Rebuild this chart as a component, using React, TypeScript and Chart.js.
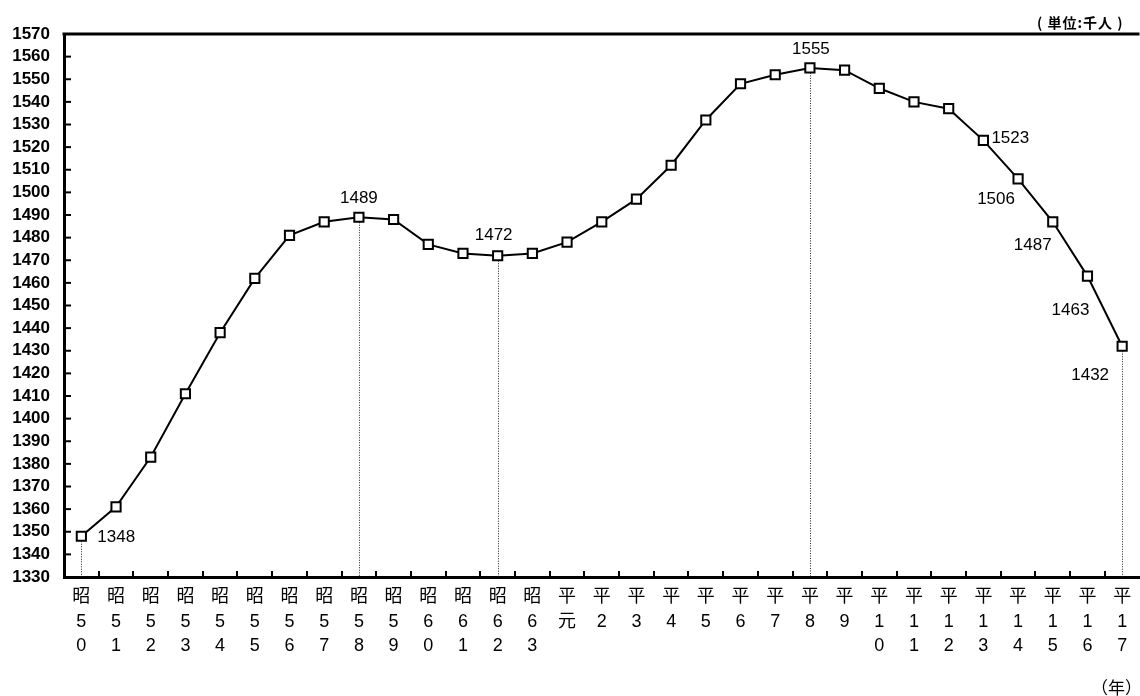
import React, { useEffect, useRef } from "react";
import { Chart, registerables } from "chart.js";

Chart.register(...registerables);

const categories = [
  "昭50", "昭51", "昭52", "昭53", "昭54", "昭55", "昭56", "昭57", "昭58", "昭59",
  "昭60", "昭61", "昭62", "昭63", "平元", "平2", "平3", "平4", "平5", "平6",
  "平7", "平8", "平9", "平10", "平11", "平12", "平13", "平14", "平15", "平16", "平17",
];

const values = [
  1348, 1361, 1383, 1411, 1438, 1462, 1481, 1487, 1489, 1488,
  1477, 1473, 1472, 1473, 1478, 1487, 1497, 1512, 1532, 1548,
  1552, 1555, 1554, 1546, 1540, 1537, 1523, 1506, 1487, 1463, 1432,
];

const labeledIndices = [0, 8, 12, 21, 26, 27, 28, 29, 30];
const dropLineIndices = [0, 8, 12, 21, 30];

const yMin = 1330;
const yMax = 1570;
const yStep = 10;

const unitText = "( 単位:千人 )";
const xAxisTitle = "（年）";

// label placement relative to the point (style/position only)
const labelPlacement: Record<number, { dx: number; dy: number; align: CanvasTextAlign }> = {
  0: { dx: 16, dy: 1, align: "left" },
  8: { dx: 0, dy: -19, align: "center" },
  12: { dx: -4, dy: -20, align: "center" },
  21: { dx: 1, dy: -19, align: "center" },
  26: { dx: 8, dy: -2, align: "left" },
  27: { dx: -22, dy: 21, align: "center" },
  28: { dx: -20, dy: 24, align: "center" },
  29: { dx: -17, dy: 34, align: "center" },
  30: { dx: -32, dy: 29, align: "center" },
};

const FONT_LATIN = "'Liberation Sans', Arial, 'Noto Sans CJK JP', sans-serif";

const decorPlugin = {
  id: "decor",
  beforeDatasetsDraw(chart: any) {
    const { ctx, chartArea: a, scales } = chart;
    const x = scales.x;
    const y = scales.y;
    ctx.save();
    ctx.strokeStyle = "#222";
    ctx.lineWidth = 1;
    ctx.setLineDash([1, 1.5]);
    for (const i of dropLineIndices) {
      const px = Math.round(x.getPixelForValue(i)) + 0.5;
      const py = y.getPixelForValue(values[i]);
      ctx.beginPath();
      ctx.moveTo(px, py + 5);
      ctx.lineTo(px, a.bottom);
      ctx.stroke();
    }
    ctx.restore();
  },
  afterDraw(chart: any) {
    const { ctx, chartArea: a, scales } = chart;
    const x = scales.x;
    const y = scales.y;
    ctx.save();
    // top frame line
    ctx.strokeStyle = "#000";
    ctx.lineWidth = 3;
    ctx.beginPath();
    ctx.moveTo(a.left - 1.5, a.top);
    ctx.lineTo(a.right, a.top);
    ctx.stroke();
    // inward y tick marks
    ctx.lineWidth = 2;
    for (const t of y.ticks) {
      const py = y.getPixelForValue(t.value);
      ctx.beginPath();
      ctx.moveTo(a.left, py);
      ctx.lineTo(a.left + 7, py);
      ctx.stroke();
    }
    // inward x tick marks at category boundaries
    for (let i = 0; i < categories.length - 1; i++) {
      const px = Math.round((x.getPixelForValue(i) + x.getPixelForValue(i + 1)) / 2);
      ctx.beginPath();
      ctx.moveTo(px, a.bottom);
      ctx.lineTo(px, a.bottom - 6);
      ctx.stroke();
    }
    // data labels
    ctx.fillStyle = "#000";
    ctx.font = `17px ${FONT_LATIN}`;
    ctx.textBaseline = "middle";
    for (const i of labeledIndices) {
      const p = labelPlacement[i];
      const px = x.getPixelForValue(i);
      const py = y.getPixelForValue(values[i]);
      ctx.textAlign = p.align;
      ctx.fillText(String(values[i]), px + p.dx, py + p.dy);
    }
    ctx.restore();
  },
};

export default function App() {
  const ref = useRef<HTMLCanvasElement | null>(null);

  useEffect(() => {
    if (!ref.current) return;
    const chart = new Chart(ref.current, {
      type: "line",
      data: {
        labels: categories,
        datasets: [
          {
            data: values,
            borderColor: "#000",
            borderWidth: 2,
            backgroundColor: "#fff",
            pointStyle: "rect",
            pointRadius: 6.5,
            pointBorderWidth: 2,
            pointBorderColor: "#000",
            pointBackgroundColor: "#fff",
            tension: 0,
          },
        ],
      },
      options: {
        responsive: false,
        animation: false,
        layout: { padding: { left: 0, right: 0, top: 34, bottom: 0 } },
        plugins: {
          legend: { display: false },
          tooltip: { enabled: false },
        },
        scales: {
          x: {
            type: "category",
            offset: true,
            grid: { display: false, drawTicks: false },
            border: { display: true, color: "#000", width: 3 },
            ticks: {
              autoSkip: false,
              maxRotation: 0,
              minRotation: 0,
              padding: 8,
              color: "#000",
              font: { family: FONT_LATIN, size: 18, lineHeight: 1.36 },
              callback: (_v: any, i: number) => Array.from(categories[i]),
            },
            afterFit: (s: any) => {
              s.height = 696 - 577;
              s.paddingLeft = 0;
              s.paddingRight = 0;
            },
          },
          y: {
            type: "linear",
            min: yMin,
            max: yMax,
            grid: { display: false, drawTicks: false },
            border: { display: true, color: "#000", width: 3 },
            ticks: {
              stepSize: yStep,
              autoSkip: false,
              padding: 14,
              color: "#000",
              font: { family: FONT_LATIN, size: 17, weight: "bold" },
              callback: (v: any) => String(v),
            },
            afterFit: (s: any) => {
              s.width = 64;
            },
          },
        },
      },
      plugins: [decorPlugin],
    });
    return () => chart.destroy();
  }, []);

  return (
    <div
      style={{
        position: "fixed",
        left: 0,
        top: 0,
        width: 1140,
        height: 696,
        overflow: "hidden",
        background: "#fff",
      }}
    >
      <canvas
        ref={ref}
        width={1148}
        height={696}
        style={{ position: "absolute", left: 0, top: 0, display: "block" }}
      />
      <div
        style={{
          position: "absolute",
          left: 1037,
          top: 12,
          font: "bold 14px 'Noto Sans CJK JP', sans-serif",
          lineHeight: "20px",
          letterSpacing: "1px",
          whiteSpace: "pre",
          color: "#000",
        }}
      >
        {unitText}
      </div>
      <div
        style={{
          position: "absolute",
          left: 1091,
          top: 675,
          font: "17px 'Noto Sans CJK JP', sans-serif",
          lineHeight: "24px",
          whiteSpace: "pre",
          color: "#000",
        }}
      >
        {xAxisTitle}
      </div>
    </div>
  );
}
